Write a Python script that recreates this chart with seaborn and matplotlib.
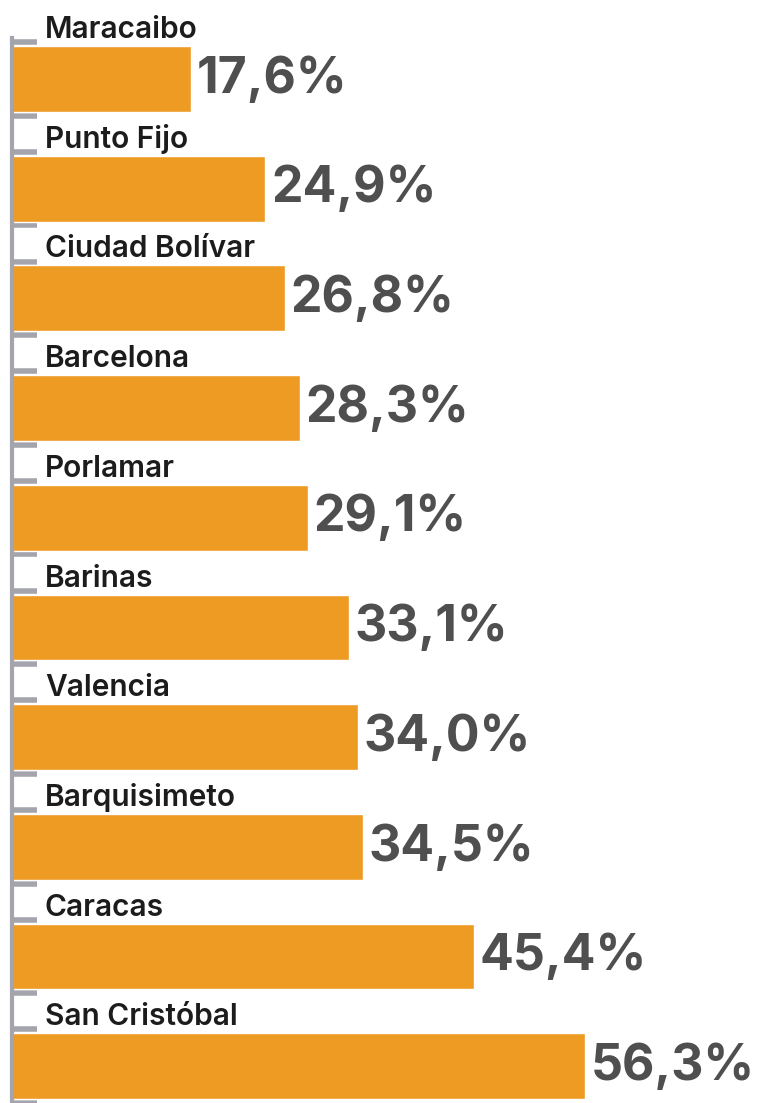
import matplotlib
matplotlib.use("Agg")
import matplotlib.pyplot as plt
import seaborn as sns
import pandas as pd

# data
cities = ["Maracaibo", "Punto Fijo", "Ciudad Bolívar", "Barcelona", "Porlamar",
          "Barinas", "Valencia", "Barquisimeto", "Caracas", "San Cristóbal"]
values = [17.6, 24.9, 26.8, 28.3, 29.1, 33.1, 34.0, 34.5, 45.4, 56.3]
value_labels = ["17,6%", "24,9%", "26,8%", "28,3%", "29,1%",
                "33,1%", "34,0%", "34,5%", "45,4%", "56,3%"]

df = pd.DataFrame({"ciudad": cities, "valor": values})

BAR = "#ee9b23"
AXIS_GREY = "#a4a4ad"

sns.set_theme(style="white")
plt.rcParams["font.family"] = ["Inter", "DejaVu Sans"]

fig = plt.figure(figsize=(7.58, 11.03), dpi=100)
ax = fig.add_axes([12 / 758, 0, 746 / 758, 1065 / 1103])

sns.barplot(data=df, x="valor", y="ciudad", color=BAR, saturation=1,
            width=0.6, ax=ax, zorder=3)

ax.set_xlim(0, 73.3)
ax.set_ylim(9.31, -0.373)

# short ticks just outside each bar edge
ax.set_yticks([i + d for i in range(len(cities)) for d in (-0.335, 0.335)])
ax.set_xticks([])
ax.tick_params(axis="y", direction="in", length=18, width=4,
               color=AXIS_GREY, left=True, labelleft=False)
ax.set_xlabel("")
ax.set_ylabel("")

for side in ["top", "right", "bottom"]:
    ax.spines[side].set_visible(False)
ax.spines["left"].set_linewidth(3)
ax.spines["left"].set_color(AXIS_GREY)
ax.spines["left"].set_zorder(4)

# percentages right of the bars
ax.bar_label(ax.containers[0], labels=value_labels, padding=4,
             fontsize=36, fontweight="bold", color="#4f4f4f")

# city names above the bars
for i, c in enumerate(cities):
    ax.annotate(c, xy=(0, i - 0.3), xytext=(33, 8), textcoords="offset pixels",
                ha="left", va="baseline", fontsize=21.5, fontweight="semibold",
                color="#1c1c1c", annotation_clip=False)

fig.savefig("out.png", dpi=100)
